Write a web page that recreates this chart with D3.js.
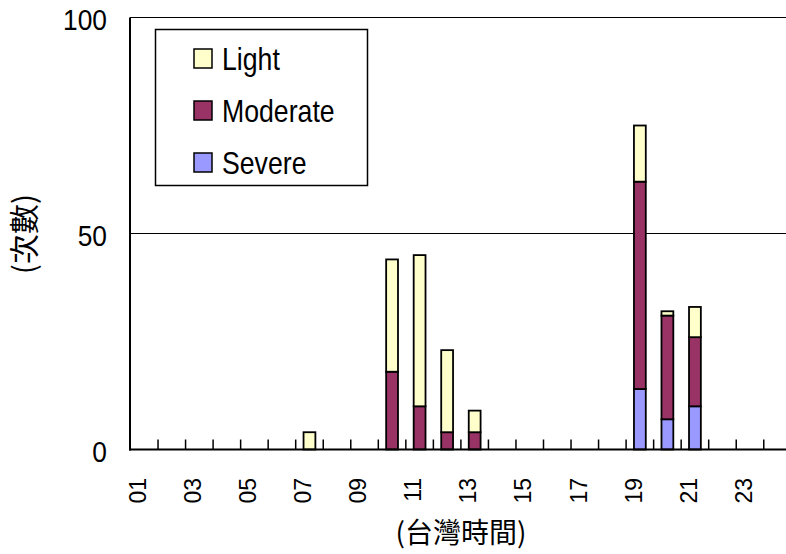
<!DOCTYPE html>
<html>
<head>
<meta charset="utf-8">
<script src="https://cdn.jsdelivr.net/npm/d3@7"></script>
<style>
  body { margin: 0; background: #fff; }
  svg { display: block; font-family: "Liberation Sans", Arial, sans-serif; }
</style>
</head>
<body>
<div id="chart"></div>
<script>
// Hours of the day (Taiwan time) and counts per intensity
const hours = ["01","02","03","04","05","06","07","08","09","10","11","12",
               "13","14","15","16","17","18","19","20","21","22","23","24"];
const light    = [0,0,0,0,0,0,4,0,0,26,35,19,5,0,0,0,0,0,13,1,7,0,0,0];
const moderate = [0,0,0,0,0,0,0,0,0,18,10,4,4,0,0,0,0,0,48,24,16,0,0,0];
const severe   = [0,0,0,0,0,0,0,0,0,0,0,0,0,0,0,0,0,0,14,7,10,0,0,0];
const yTicks = [0, 50, 100];
const seriesNames = ["Light", "Moderate", "Severe"];

const WIDTH = 786, HEIGHT = 554;
const COLORS = { Light: "#ffffcc", Moderate: "#993366", Severe: "#9999ff" };
const CJK = "'Noto Sans CJK TC', 'Liberation Sans', sans-serif";

const svg = d3.select("#chart").append("svg")
  .attr("width", WIDTH).attr("height", HEIGHT);

const x = d3.scaleBand().domain(hours).range([130.5, 791.3]).padding(0);
const y = d3.scaleLinear().domain([0, 100]).range([449.5, 17.5]);

// gridlines at 50 and 100
svg.append("g").selectAll("line")
  .data(yTicks.filter(d => d > 0))
  .join("line")
  .attr("x1", 130).attr("x2", WIDTH)
  .attr("y1", d => y(d)).attr("y2", d => y(d))
  .attr("stroke", "#000").attr("stroke-width", 1.2);

// stacked bars
const table = hours.map((h, i) => ({ hour: h, Severe: severe[i], Moderate: moderate[i], Light: light[i] }));
const stack = d3.stack().keys(["Severe", "Moderate", "Light"])(table);
const barW = x.bandwidth() * 0.43;

svg.append("g").selectAll("g")
  .data(stack)
  .join("g")
  .attr("fill", s => COLORS[s.key])
  .selectAll("rect")
  .data(s => s.filter(d => d[1] - d[0] > 0))
  .join("rect")
  .attr("x", d => x(d.data.hour) + (x.bandwidth() - barW) / 2)
  .attr("y", d => y(d[1]))
  .attr("width", barW)
  .attr("height", d => y(d[0]) - y(d[1]))
  .attr("stroke", "#000")
  .attr("stroke-width", 1.8);

// axes lines
svg.append("line")
  .attr("x1", 130).attr("x2", 130).attr("y1", y(100)).attr("y2", y(0) + 1)
  .attr("stroke", "#000").attr("stroke-width", 2);
svg.append("line")
  .attr("x1", 129).attr("x2", WIDTH).attr("y1", y(0)).attr("y2", y(0))
  .attr("stroke", "#000").attr("stroke-width", 2);

// category boundary ticks (pointing up)
svg.append("g").selectAll("line")
  .data(hours.slice(1))
  .join("line")
  .attr("x1", d => x(d)).attr("x2", d => x(d))
  .attr("y1", y(0)).attr("y2", y(0) - 10)
  .attr("stroke", "#000").attr("stroke-width", 1.5);

// y tick labels
svg.append("g").selectAll("text")
  .data(yTicks)
  .join("text")
  .attr("transform", d => `translate(107,${y(d) + 2}) scale(0.94,1.08)`)
  .attr("dy", "0.35em")
  .attr("text-anchor", "end")
  .attr("font-size", 28)
  .text(d => d);

// x tick labels, every other hour, rotated
svg.append("g").selectAll("text")
  .data(hours.filter((d, i) => i % 2 === 0))
  .join("text")
  .attr("transform", d => `translate(${x(d) + x.bandwidth() / 2 - 7},478) rotate(-90) scale(1,1.08)`)
  .attr("dy", "0.35em")
  .attr("text-anchor", "end")
  .attr("font-size", 23)
  .text(d => d);

// axis titles
svg.append("text")
  .attr("x", 461).attr("y", 543)
  .attr("text-anchor", "middle")
  .attr("font-size", 28)
  .attr("font-family", CJK)
  .text("(台灣時間)");

svg.append("text")
  .attr("transform", "translate(35,234) rotate(-90)")
  .attr("text-anchor", "middle")
  .attr("font-size", 30)
  .attr("font-family", CJK)
  .text("(次數)");

// legend
const legend = svg.append("g");
legend.append("rect")
  .attr("x", 155.5).attr("y", 29.5).attr("width", 212).attr("height", 156)
  .attr("fill", "#fff").attr("stroke", "#000").attr("stroke-width", 1.5);

const items = legend.selectAll("g")
  .data(seriesNames)
  .join("g")
  .attr("transform", (d, i) => `translate(0,${58 + i * 52})`);
items.append("rect")
  .attr("x", 194).attr("y", -9).attr("width", 18).attr("height", 19)
  .attr("fill", d => COLORS[d]).attr("stroke", "#000").attr("stroke-width", 1.5);
items.append("text")
  .attr("transform", "translate(222,12) scale(0.92,1.1)")
  .attr("font-size", 29)
  .text(d => d);
</script>
</body>
</html>
